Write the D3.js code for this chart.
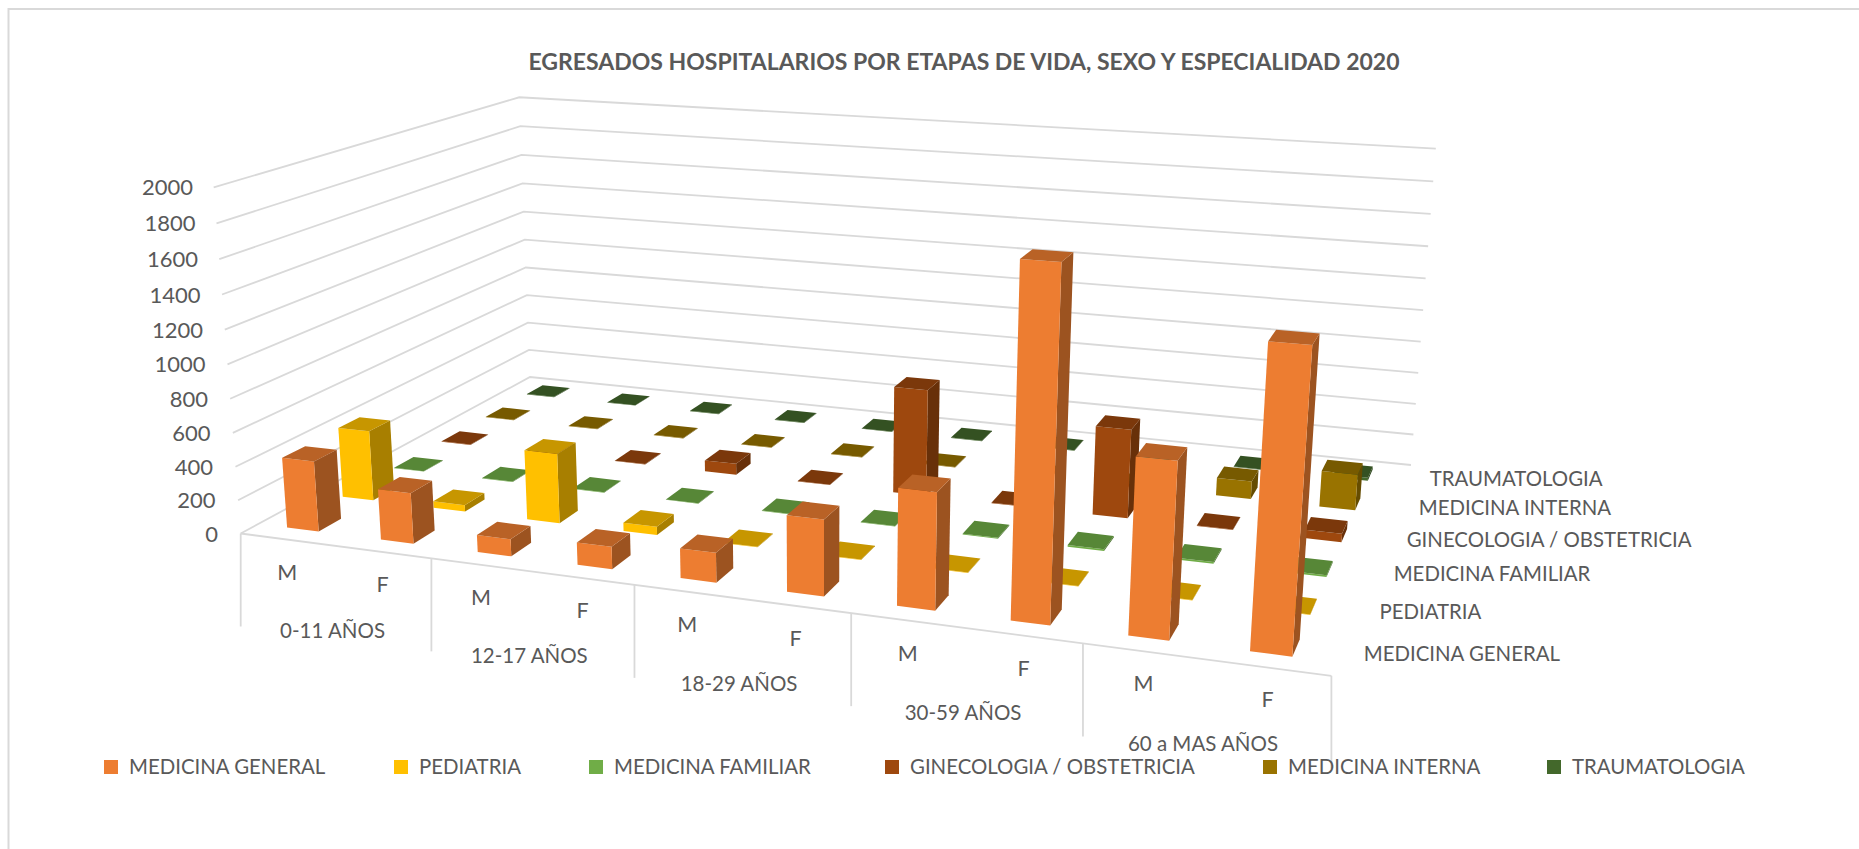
<!DOCTYPE html>
<html><head><meta charset="utf-8">
<style>html,body{margin:0;padding:0;background:#fff}svg{display:block}text{font-family:Lato,"Open Sans",sans-serif;fill:#595959}</style>
<script src="https://cdn.jsdelivr.net/npm/d3@7"></script>
</head><body><svg id="c" width="1859" height="849"></svg>
<script>
const title = "EGRESADOS HOSPITALARIOS POR ETAPAS DE VIDA, SEXO Y ESPECIALIDAD 2020";
const groups = ["0-11 AÑOS","12-17 AÑOS","18-29 AÑOS","30-59 AÑOS","60 a MAS AÑOS"];
const sexes = ["M","F"];
const seriesNames = ["MEDICINA GENERAL","PEDIATRIA","MEDICINA FAMILIAR","GINECOLOGIA / OBSTETRICIA","MEDICINA INTERNA","TRAUMATOLOGIA"];
const seriesColors = ["#ED7D31","#FFC000","#70AD47","#9E480E","#997300","#43682B"];
const yTicks = [0,200,400,600,800,1000,1200,1400,1600,1800,2000];
const medicinaGeneral = [420,300,100,130,170,430,650,1900,950,1590];
const pediatria       = [430,40,420,50,3,3,3,3,3,3];
const medicinaFamiliar= [3,3,3,3,3,3,5,10,10,10];
const ginecologia     = [3,3,3,70,3,660,3,540,3,50];
const medicinaInterna = [3,3,3,3,3,3,3,3,110,220];
const traumatologia   = [3,3,3,3,3,3,3,3,3,20];
const seriesValues = [medicinaGeneral,pediatria,medicinaFamiliar,ginecologia,medicinaInterna,traumatologia];

// plot-box calibration of the perspective
const FL=[240.7,533.5],FR=[1331.4,675.8],BR=[1411,465],BL=[530,377];
const TFL=[209,185],TBR=[1434.6,147],TBL=[524,100.5];
function makeHomography(){
  const [x0,y0]=FL,[x1,y1]=FR,[x2,y2]=BR,[x3,y3]=BL;
  const dx1=x1-x2,dx2=x3-x2,sx=x0-x1+x2-x3,dy1=y1-y2,dy2=y3-y2,sy=y0-y1+y2-y3;
  const den=dx1*dy2-dx2*dy1;
  const g=(sx*dy2-dx2*sy)/den,h=(dx1*sy-sx*dy1)/den;
  return {a:x1-x0+g*x1,b:x3-x0+h*x3,c:x0,d:y1-y0+g*y1,e:y3-y0+h*y3,f:y0,g,h};
}
const H=makeHomography();
function solve3(M,r){
  const A=M.map((row,i)=>[...row,r[i]]);
  for(let i=0;i<3;i++){
    let p=i;for(let k=i+1;k<3;k++)if(Math.abs(A[k][i])>Math.abs(A[p][i]))p=k;
    [A[i],A[p]]=[A[p],A[i]];
    for(let k=0;k<3;k++)if(k!==i){const f=A[k][i]/A[i][i];for(let j=i;j<4;j++)A[k][j]-=f*A[i][j];}
  }
  return A.map((row,i)=>row[3]/row[i]);
}
function wColumn(){
  const obs=[[0,0,TFL],[1,1,TBR],[0,1,TBL]],rows=[],rhs=[];
  obs.forEach(([u,v,[X,Y]])=>{
    const D=H.g*u+H.h*v+1,Nx=H.a*u+H.b*v+H.c,Ny=H.d*u+H.e*v+H.f;
    rows.push([1,0,-X]);rhs.push(X*D-Nx);
    rows.push([0,1,-Y]);rhs.push(Y*D-Ny);
  });
  const M=[[0,0,0],[0,0,0],[0,0,0]],r=[0,0,0];
  rows.forEach((row,k)=>{for(let i=0;i<3;i++){r[i]+=row[i]*rhs[k];for(let j=0;j<3;j++)M[i][j]+=row[i]*row[j];}});
  return solve3(M,r);
}
const [WA,WB,WC]=wColumn();
function project(u,v,w){
  const D=H.g*u+H.h*v+1+WC*w;
  return [(H.a*u+H.b*v+H.c+WA*w)/D,(H.d*u+H.e*v+H.f+WB*w)/D];
}

const uScale=d3.scaleBand().domain(d3.range(10)).range([0,1]);
const vScale=d3.scaleBand().domain(d3.range(6)).range([0,1]);
const gScale=d3.scaleBand().domain(d3.range(5)).range([0,1]);
const wScale=d3.scaleLinear().domain([0,2000]).range([0,1]);
const barOffsetU=0.31,barWidth=0.34,barOffsetV=0.30,barDepth=0.40;

const svg=d3.select("#c");
const GRID="#D9D9D9";
// outer frame (left and top edges visible)
svg.append("path").attr("d","M8.5,849V9H1859").attr("fill","none").attr("stroke",GRID).attr("stroke-width",2);

svg.append("text").attr("x",964).attr("y",70).attr("text-anchor","middle")
  .attr("font-size",23).attr("font-weight",700).text(title);

// walls
const lg=svg.append("g").attr("fill","none").attr("stroke",GRID).attr("stroke-width",1.8);
yTicks.forEach(t=>{
  const w=wScale(t);
  lg.append("path").attr("d",d3.line()([project(0,0,w),project(0,1,w),project(1,1,w)]));
});
// front axis and hanging dividers
lg.append("path").attr("d",d3.line()([project(0,0,0),project(1,0,0)]));
d3.range(6).forEach(i=>{
  const p=project(i/5,0,0);
  lg.append("path").attr("d",d3.line()([p,[p[0],p[1]+93]]));
});

// y labels
const labelLeftX=d3.scaleLinear().domain([0,2000]).range([218,193]);
yTicks.forEach(t=>{
  const p=project(0,0,wScale(t));
  svg.append("text").attr("x",labelLeftX(t)).attr("y",p[1]+8).attr("text-anchor","end").attr("font-size",22).text(t);
});
// category labels
d3.range(10).forEach(i=>{
  const p=project(uScale(i)+uScale.bandwidth()/2,0,0);
  svg.append("text").attr("x",p[0]).attr("y",p[1]+40).attr("text-anchor","middle").attr("font-size",21.5).text(sexes[i%2]);
});
groups.forEach((g,i)=>{
  const p=project(gScale(i)+gScale.bandwidth()/2,0,0);
  svg.append("text").attr("x",p[0]-2).attr("y",p[1]+92).attr("text-anchor","middle").attr("font-size",20.5).text(g);
});
// depth labels
seriesNames.forEach((s,i)=>{
  const p=project(1,vScale(i)+vScale.bandwidth()/2,0);
  svg.append("text").attr("x",p[0]+24).attr("y",p[1]+7).attr("font-size",20.4).text(s);
});

// bars, painted back to front
const path=d3.line();
const shade=(c,k)=>{const r=d3.rgb(c);return d3.rgb(r.r*k,r.g*k,r.b*k).formatHex();};
const bars=svg.append("g");
d3.range(5,-1,-1).forEach(si=>{
  seriesValues[si].forEach((val,ci)=>{
    const cw=uScale.bandwidth(),cd=vScale.bandwidth();
    const u0=uScale(ci)+cw*barOffsetU,u1=u0+cw*barWidth;
    const v0=vScale(si)+cd*barOffsetV,v1=v0+cd*barDepth;
    const w=wScale(val),c=seriesColors[si];
    const g=bars.append("g");
    g.append("path").attr("d",path([project(u1,v0,0),project(u1,v1,0),project(u1,v1,w),project(u1,v0,w)])+"Z").attr("fill",shade(c,.66));
    g.append("path").attr("d",path([project(u0,v0,0),project(u1,v0,0),project(u1,v0,w),project(u0,v0,w)])+"Z").attr("fill",c);
    g.append("path").attr("d",path([project(u0,v0,w),project(u1,v0,w),project(u1,v1,w),project(u0,v1,w)])+"Z").attr("fill",shade(c,.78));
  });
});

// legend
const legendX=[104,394,589,885,1263,1547];
seriesNames.forEach((s,i)=>{
  svg.append("rect").attr("x",legendX[i]).attr("y",760).attr("width",14).attr("height",14).attr("fill",seriesColors[i]);
  svg.append("text").attr("x",legendX[i]+25).attr("y",774).attr("font-size",20.4).text(s);
});
</script></body></html>
